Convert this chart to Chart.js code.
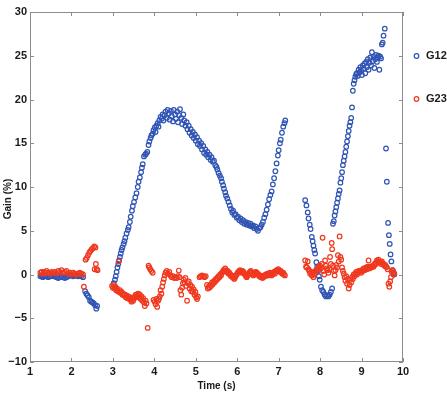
<!DOCTYPE html>
<html>
<head>
<meta charset="utf-8">
<script src="https://cdn.jsdelivr.net/npm/chart.js@4.4.1/dist/chart.umd.min.js"></script>
<style>
  html, body { margin: 0; padding: 0; background: #ffffff; }
  #wrap { width: 447px; height: 393px; position: relative; }
</style>
</head>
<body>
<div id="wrap"><canvas id="grafico"></canvas></div>
<script>
// ==========================================
// DADOS
// ==========================================

const seriesNames = ['G12', 'G23'];
const xTicks = [1, 2, 3, 4, 5, 6, 7, 8, 9, 10];
const yTicks = [-10, -5, 0, 5, 10, 15, 20, 25, 30];

// G12 - tempo (s)
const g12Time = [
  1.25,1.28,1.31,1.34,1.37,1.40,1.44,1.48,1.52,1.56,1.60,1.64,1.68,1.72,1.76,1.80,1.84,1.88,1.92,1.96,2.00,2.04,2.08,2.12,2.16,2.20,2.24,2.28,
  2.33,2.36,2.39,2.42,2.45,2.48,2.51,2.54,2.57,2.60,2.62,
  3.02,3.05,3.07,3.09,3.11,3.13,3.15,3.17,3.19,3.21,3.23,3.26,3.28,3.30,3.33,3.36,3.38,3.41,3.43,3.46,3.48,3.51,3.54,3.57,3.60,3.62,3.65,3.68,3.70,3.72,3.75,3.78,3.80,3.83,3.86,3.88,3.91,3.93,3.96,3.98,
  4.01,4.03,4.05,4.08,4.10,4.12,4.15,4.18,4.20,4.22,4.25,4.27,4.30,4.32,4.35,4.37,4.40,4.42,4.45,4.47,4.50,4.52,4.55,4.57,4.60,4.62,4.65,4.67,4.70,4.72,
  4.75,4.78,4.80,4.83,4.85,4.88,4.90,4.93,4.95,4.98,5.00,5.03,5.05,5.08,5.10,5.13,5.15,5.18,5.20,5.23,5.25,5.28,5.30,5.33,5.36,5.38,5.41,5.44,5.47,5.50,
  5.52,5.55,5.58,5.61,5.63,5.66,5.68,5.71,5.73,5.76,5.79,5.82,5.85,5.88,5.90,5.93,5.96,5.99,6.02,6.05,6.08,6.11,6.14,6.17,6.20,6.23,6.26,6.29,6.32,6.35,
  6.38,6.41,6.44,6.47,6.50,6.53,6.56,6.59,6.62,6.65,6.68,6.71,6.74,6.77,6.80,6.83,6.86,6.89,6.92,6.95,6.98,7.00,7.03,7.05,7.08,7.11,7.14,7.16,
  7.64,7.67,7.70,7.72,7.75,7.77,7.80,7.82,7.84,7.86,7.88,7.91,7.93,7.95,7.97,7.99,8.02,8.05,8.08,8.11,8.14,8.17,8.20,8.23,8.26,8.29,
  8.31,8.33,8.35,8.37,8.39,8.41,8.43,8.45,8.47,8.49,8.51,8.53,8.55,8.57,8.59,8.61,8.63,8.65,8.67,8.69,8.71,8.73,8.75,8.77,8.79,8.81,8.83,8.85,8.87,8.89,
  8.91,8.93,8.95,8.97,8.99,9.01,9.03,9.05,9.07,9.09,9.11,9.13,9.15,9.17,9.19,9.21,9.23,9.25,9.27,9.29,9.31,9.33,9.35,9.37,9.39,9.41,9.43,9.45,9.47,9.49,
  9.51,9.53,9.56,9.59,9.61,9.64,9.66,9.68,9.70,9.72,9.75,9.77,9.79
];
// G12 - ganho (%)
const g12Gain = [
  -0.2,-0.1,-0.3,-0.2,-0.1,-0.2,-0.3,-0.2,-0.1,-0.2,-0.2,-0.3,-0.4,-0.3,-0.2,-0.3,-0.4,-0.3,-0.2,-0.1,-0.1,-0.2,-0.1,-0.1,-0.2,-0.1,-0.2,-0.3,
  -1.9,-2.2,-2.4,-2.6,-3.0,-3.1,-3.2,-3.3,-3.5,-3.9,-3.6,
  -1.0,-0.6,-0.2,0.3,0.8,1.2,1.6,2.0,2.4,2.8,3.1,3.5,3.8,4.2,4.7,5.1,5.4,6.0,6.6,7.3,7.8,8.3,8.8,9.3,10.0,10.6,11.1,11.7,12.2,12.6,13.5,13.7,13.8,14.0,14.8,15.2,15.6,15.9,16.1,16.5,
  16.8,16.3,17.0,17.3,16.9,17.6,18.0,17.8,18.3,17.6,18.2,18.6,17.9,18.8,18.4,17.7,18.7,18.1,17.5,18.8,18.3,17.8,18.6,17.4,18.2,18.9,17.9,17.2,18.3,17.6,
  17.0,17.4,16.6,17.0,16.2,16.6,15.9,16.3,15.6,16.0,15.3,15.7,14.9,15.3,14.7,15.0,14.3,14.7,13.9,14.3,13.7,14.0,13.4,13.7,13.1,13.4,12.9,13.0,12.5,12.3,
  12.0,11.6,11.3,11.0,10.6,10.2,9.8,9.4,9.0,8.7,8.3,7.9,7.5,7.1,7.3,6.8,6.9,6.5,6.6,6.2,6.4,6.0,6.2,5.8,6.0,5.7,5.9,5.6,5.8,5.5,
  5.6,5.3,5.5,5.2,5.0,5.3,5.4,5.7,6.0,6.5,6.9,7.4,8.0,8.6,9.1,9.5,10.3,11.0,11.8,12.7,13.6,14.2,15.0,15.4,16.2,16.9,17.3,17.6,
  8.5,7.9,7.1,6.4,5.7,5.2,4.3,3.8,3.3,2.8,2.4,1.4,0.9,0.4,-0.2,-0.6,-1.4,-1.8,-2.0,-2.3,-2.5,-2.4,-2.5,-2.3,-2.0,-1.6,
  5.8,6.1,6.75,7.2,7.7,8.2,8.7,9.2,9.6,10.5,11.0,11.7,12.5,13.0,13.5,14.0,14.6,15.2,15.8,16.4,17.0,17.4,17.9,19.1,21.0,21.8,22.2,22.6,22.9,23.0,
  22.7,23.4,23.1,23.7,23.3,22.8,23.9,23.5,24.1,23.0,24.3,23.7,24.6,23.4,24.2,24.8,23.9,25.4,24.4,24.9,23.6,24.6,25.1,24.3,24.8,25.0,23.4,24.9,24.7,26.3,
  26.5,27.3,28.1,14.4,10.6,5.9,4.5,3.5,2.3,1.5,0.5,0.0,0.1
];

// G23 - tempo (s)
const g23Time = [
  1.25,1.28,1.31,1.34,1.37,1.40,1.44,1.48,1.52,1.56,1.60,1.64,1.68,1.72,1.76,1.80,1.84,1.88,1.92,1.96,2.00,2.04,2.08,2.12,2.16,2.20,2.24,2.28,
  2.30,2.34,2.37,2.40,2.43,2.46,2.49,2.52,2.55,2.58,2.56,2.59,2.61,2.63,
  2.98,3.00,3.02,3.04,3.06,3.08,3.10,3.12,3.14,3.15,3.17,3.19,3.21,3.23,3.25,3.27,3.29,3.31,3.33,3.35,3.37,3.39,3.41,3.43,3.45,3.47,3.49,3.51,3.53,3.55,
  3.57,3.59,3.61,3.63,3.65,3.67,3.69,3.71,3.73,3.75,3.77,3.79,3.81,3.84,3.86,3.88,3.90,3.93,3.96,3.98,4.01,4.03,4.05,4.07,4.09,4.11,4.13,4.15,4.17,4.19,
  4.21,4.23,4.25,4.27,4.30,4.33,4.36,4.39,4.42,4.45,4.48,4.51,4.54,4.57,4.59,4.61,4.63,4.65,4.67,4.69,4.71,4.73,4.75,4.77,4.79,4.81,4.83,4.85,4.87,4.89,
  4.91,4.93,4.95,4.97,4.99,5.01,5.03,5.05,5.09,5.12,5.15,5.18,5.21,5.24,5.27,5.29,5.31,5.33,5.35,5.37,5.39,5.41,5.43,5.45,5.47,5.49,5.51,5.53,5.55,5.57,
  5.59,5.61,5.63,5.65,5.67,5.69,5.71,5.73,5.75,5.77,5.79,5.81,5.83,5.85,5.87,5.89,5.91,5.93,5.95,5.97,5.99,6.01,6.03,6.05,6.07,6.09,6.11,6.13,6.15,6.17,
  6.19,6.21,6.23,6.25,6.27,6.29,6.31,6.33,6.35,6.37,6.39,6.41,6.43,6.45,6.47,6.49,6.51,6.53,6.55,6.57,6.59,6.61,6.63,6.65,6.67,6.69,6.71,6.73,6.75,6.77,
  6.79,6.81,6.83,6.85,6.87,6.89,6.91,6.93,6.95,6.97,6.99,7.01,7.03,7.05,7.07,7.09,7.11,7.13,7.15,
  7.64,7.66,7.68,7.70,7.72,7.74,7.76,7.78,7.80,7.82,7.84,7.86,7.88,7.90,7.92,7.94,7.96,7.98,8.00,8.02,8.04,8.06,8.08,8.10,8.12,8.14,8.16,8.18,8.20,8.22,
  8.24,8.26,8.28,8.29,8.31,8.33,8.35,8.37,8.39,8.41,8.43,8.45,8.47,8.49,8.51,8.53,8.55,8.57,8.59,8.61,8.63,8.65,8.67,8.69,8.71,8.73,8.75,8.77,8.79,8.81,
  8.83,8.85,8.87,8.89,8.91,8.93,8.95,8.97,8.99,9.01,9.03,9.05,9.07,9.09,9.11,9.13,9.15,9.17,9.19,9.21,9.23,9.25,9.27,9.29,9.31,9.33,9.35,9.37,9.39,9.41,
  9.43,9.45,9.47,9.49,9.51,9.53,9.55,9.57,9.59,9.61,9.63,9.65,9.67,9.69,9.71,9.73,9.75,9.77,9.79
];
// G23 - ganho (%)
const g23Gain = [
  0.2,0.3,0.1,0.3,0.2,0.4,0.2,0.1,0.3,0.2,0.3,0.1,0.4,0.3,0.5,0.2,0.3,0.4,0.1,0.2,0.0,0.2,0.1,0.0,0.1,0.2,0.1,0.0,
  -1.4,1.7,1.9,2.2,2.5,2.7,2.9,3.0,3.2,3.1,0.6,1.2,0.6,0.5,
  -1.3,-1.5,-1.2,-1.6,-1.4,-1.8,-1.6,-1.9,1.5,-2.0,-1.8,-2.1,-2.0,-2.3,-2.2,-2.4,-2.3,-2.6,-2.4,-2.7,-2.5,-2.8,-2.6,-2.9,-3.1,-2.8,-3.0,-2.7,-2.5,-2.3,
  -2.6,-2.4,-2.2,-2.6,-2.3,-2.8,-2.5,-3.0,-2.7,-3.2,-3.6,-3.0,-3.3,-6.1,1.0,0.8,0.6,0.4,0.2,-2.9,-3.1,-3.4,-2.8,-3.7,-3.0,-2.8,-2.5,-1.8,-2.2,-1.4,
  -0.9,-0.5,-0.1,0.2,0.4,0.1,0.3,-0.1,-0.3,-0.2,-0.4,-0.3,-0.4,-0.2,0.45,-0.3,-1.8,-2.3,-1.5,-1.0,-0.6,-0.9,-0.4,-1.3,-3.0,-1.0,-0.8,-1.6,-1.2,-1.9,
  -1.4,-2.0,-1.7,-2.3,-2.0,-2.6,-2.8,-2.5,-0.3,-0.2,-0.1,-0.2,-0.3,-0.2,-1.2,-1.6,-1.4,-1.5,-1.2,-1.3,-0.9,-1.1,-0.8,-0.9,-0.6,-0.7,-0.4,-0.5,-0.2,-0.3,
  0.0,-0.1,0.2,0.3,0.5,0.4,0.7,0.5,0.3,0.4,0.1,0.2,0.0,-0.2,-0.1,-0.3,-0.4,-0.5,-0.3,-0.1,0.0,0.2,0.3,0.4,0.5,0.3,0.2,0.4,0.3,0.1,
  0.0,-0.2,-0.3,-0.1,0.0,0.2,0.3,0.4,0.2,0.0,-0.1,0.1,0.2,0.3,0.2,0.1,0.0,-0.2,-0.1,-0.3,-0.2,-0.4,-0.3,-0.1,-0.2,0.0,-0.1,0.1,-0.1,0.0,
  0.2,0.1,-0.1,0.0,0.2,0.3,0.1,0.4,0.5,0.4,0.6,0.5,0.3,0.4,0.2,0.1,0.2,0.0,-0.1,
  1.6,0.9,0.8,1.5,0.6,0.4,0.1,0.3,-0.1,0.2,-0.3,0.0,0.3,0.5,0.4,0.6,0.8,0.9,1.0,0.7,1.2,4.2,0.4,0.0,1.6,1.0,0.7,0.5,0.2,0.6,
  2.0,1.2,3.6,2.9,1.0,0.4,-0.1,0.5,1.1,0.8,2.2,1.5,4.35,2.0,1.7,0.8,0.4,0.1,-0.3,-0.7,-0.2,-1.05,-0.5,-1.6,-1.2,-0.6,-0.9,-0.3,-0.5,0.0,
  -0.2,0.1,0.3,0.0,0.2,0.4,0.3,0.45,0.2,0.5,0.4,0.7,0.5,0.65,0.8,0.6,0.9,1.6,0.7,0.9,0.8,0.85,1.0,0.9,1.1,1.3,1.2,1.6,1.5,1.7,
  1.4,1.4,1.2,1.5,1.3,1.2,1.0,1.1,0.9,0.85,0.6,-1.05,-1.4,-0.8,-0.3,0.3,0.5,0.26,0.0
];

const toPoints = (ts, vs) => ts.map((t, i) => ({ x: t, y: vs[i] }));

const corG12 = '#2f54b4';
const corG23 = '#f0381f';
const fonteTicks = { family: "'Liberation Sans', Arial, sans-serif", size: 11, weight: 'bold' };
const fonteTitulo = { family: "'Liberation Sans', Arial, sans-serif", size: 10, weight: 'bold' };

// ==========================================
// PLUGIN: moldura, marcas internas, legenda e título Y
// ==========================================
const molduraPlugin = {
  id: 'moldura',
  afterDraw(chart) {
    const { ctx, chartArea: a, scales } = chart;
    const tick = 4;
    ctx.save();
    ctx.strokeStyle = '#8c8c8c';
    ctx.lineWidth = 1;
    ctx.strokeRect(a.left + 0.5, a.top + 0.5, a.right - a.left - 1, a.bottom - a.top - 1);

    ctx.beginPath();
    xTicks.forEach(v => {
      const px = Math.round(scales.x.getPixelForValue(v)) + 0.5;
      ctx.moveTo(px, a.top); ctx.lineTo(px, a.top + tick);
      ctx.moveTo(px, a.bottom); ctx.lineTo(px, a.bottom - tick);
    });
    yTicks.forEach(v => {
      const py = Math.round(scales.y.getPixelForValue(v)) + 0.5;
      ctx.moveTo(a.left, py); ctx.lineTo(a.left + tick, py);
      ctx.moveTo(a.right, py); ctx.lineTo(a.right - tick, py);
    });
    ctx.stroke();

    // legenda à direita
    ctx.font = 'bold 11px "Liberation Sans", Arial, sans-serif';
    ctx.textBaseline = 'middle';
    ctx.fillStyle = '#1a1a1a';
    const itens = [[seriesNames[0], corG12, 56], [seriesNames[1], corG23, 99]];
    itens.forEach(([nome, cor, y]) => {
      ctx.beginPath();
      ctx.strokeStyle = cor;
      ctx.lineWidth = 1.2;
      ctx.arc(416.5, y, 2.3, 0, Math.PI * 2);
      ctx.stroke();
      ctx.fillText(nome, 426, y);
    });

    // título do eixo Y
    ctx.translate(8, 199);
    ctx.rotate(-Math.PI / 2);
    ctx.textAlign = 'center';
    ctx.font = 'bold 10px "Liberation Sans", Arial, sans-serif';
    ctx.fillText('Gain (%)', 0, 0);
    ctx.restore();
  }
};

document.addEventListener('DOMContentLoaded', () => {
  const ctx = document.getElementById('grafico');
  new Chart(ctx.getContext('2d'), {
    type: 'scatter',
    data: {
      datasets: [
        {
          label: seriesNames[0],
          data: toPoints(g12Time, g12Gain),
          borderColor: corG12,
          backgroundColor: 'rgba(0,0,0,0)',
          pointRadius: 2.3,
          pointBorderWidth: 1.2,
          order: 2
        },
        {
          label: seriesNames[1],
          data: toPoints(g23Time, g23Gain),
          borderColor: corG23,
          backgroundColor: 'rgba(0,0,0,0)',
          pointRadius: 2.3,
          pointBorderWidth: 1.2,
          order: 1
        }
      ]
    },
    options: {
      responsive: true,
      maintainAspectRatio: false,
      animation: false,
      layout: { padding: { top: 12, right: 44, left: 0, bottom: 0 } },
      plugins: {
        legend: { display: false },
        tooltip: { enabled: false }
      },
      scales: {
        x: {
          type: 'linear',
          min: 1,
          max: 10,
          afterFit: s => { s.height = 31; },
          afterBuildTicks: s => { s.ticks = xTicks.map(v => ({ value: v })); },
          grid: { display: false, drawTicks: false },
          border: { display: false },
          ticks: { font: fonteTicks, color: '#1a1a1a', padding: 3, maxRotation: 0 },
          title: { display: true, text: 'Time (s)', font: fonteTitulo, color: '#1a1a1a', padding: { top: 0, bottom: 1 } }
        },
        y: {
          type: 'linear',
          min: -10,
          max: 30,
          afterFit: s => { s.width = 30; },
          afterBuildTicks: s => { s.ticks = yTicks.map(v => ({ value: v })); },
          grid: { display: false, drawTicks: false },
          border: { display: false },
          ticks: {
            font: fonteTicks,
            color: '#1a1a1a',
            padding: 3,
            callback: v => (v < 0 ? '\u2212' + Math.abs(v) : String(v))
          }
        }
      }
    },
    plugins: [molduraPlugin]
  });
});
</script>
</body>
</html>
